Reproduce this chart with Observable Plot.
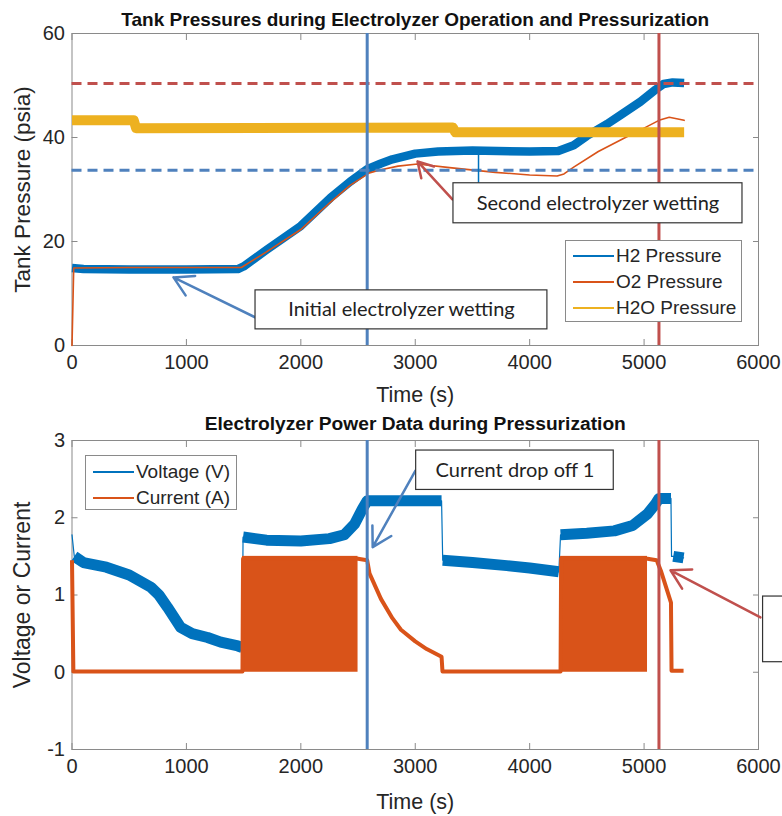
<!DOCTYPE html>
<html>
<head>
<meta charset="utf-8">
<script src="https://cdn.jsdelivr.net/npm/d3@7"></script>
<script src="https://cdn.jsdelivr.net/npm/@observablehq/plot@0.6"></script>
<style>
  html, body { margin: 0; padding: 0; background: #fff; }
  #wrap { position: relative; width: 782px; height: 816px; overflow: hidden; background: #fff;
          font-family: "Liberation Sans", Arial, Helvetica, sans-serif; }
  .panel { position: absolute; left: 0; }
  .legend { position: absolute; box-sizing: border-box; border: 1px solid #8a8a8a; background: #fff;
            color: #262626; font-size: 19px; }
  .legend .row { position: absolute; left: 0; height: 22px; line-height: 22px; white-space: nowrap; }
  .legend .sw { position: absolute; top: 10px; height: 2px; }
  .legend .lb { position: absolute; top: 0; }
</style>
</head>
<body>
<div id="wrap">
  <div id="topPanel" class="panel" style="top:0"></div>
  <div id="bottomPanel" class="panel" style="top:410px"></div>
</div>
<script>
// ---------------- data ----------------
const xTicks = [0, 1000, 2000, 3000, 4000, 5000, 6000];
const pressureTicks = [0, 20, 40, 60];
const powerTicks = [-1, 0, 1, 2, 3];

const pressureTitle = "Tank Pressures during Electrolyzer Operation and Pressurization";
const powerTitle = "Electrolyzer Power Data during Pressurization";
const timeLabel = "Time (s)";
const pressureLabel = "Tank Pressure (psia)";
const powerLabel = "Voltage or Current";
const pressureSeriesNames = ["H2 Pressure", "O2 Pressure", "H2O Pressure"];
const powerSeriesNames = ["Voltage (V)", "Current (A)"];

// [time s, psia]
const h2Pressure = [[0,14.9],[100,14.7],[500,14.6],[1000,14.6],[1450,14.7],[1500,15.2],[1700,18.4],
  [2000,23.0],[2259,28.4],[2430,31.5],[2580,33.9],[2700,35.0],[2800,35.8],[3000,36.9],[3200,37.3],
  [3500,37.5],[4000,37.3],[4250,37.4],[4385,38.5],[4500,40.3],[4677,42.6],[4800,44.4],[4969,46.9],
  [5100,49.2],[5170,50.3],[5250,50.6],[5350,50.5]];
const o2Pressure = [[0,0],[15,14.9],[500,15.0],[1000,15.0],[1480,15.0],[1700,18.0],[2000,22.3],
  [2250,27.4],[2430,30.8],[2600,33.2],[2700,33.8],[2850,34.5],[3020,34.9],[3300,34.2],[3700,33.3],
  [4000,32.8],[4240,32.6],[4300,33.0],[4385,34.3],[4600,37.3],[4820,39.8],[5000,41.8],[5130,43.3],
  [5220,43.9],[5350,43.3]];
const h2oPressure = [[0,43.3],[540,43.3],[560,41.8],[3330,41.9],[3350,41.0],[5350,41.0]];
const h2LimitPsia = 33.7;
const o2LimitPsia = 50.4;
const eventTimes = [2580, 5130];

// voltage trace, split where it jumps
const voltageSegments = [
  [[0,1.78]],
  [[20,1.5],[100,1.42],[300,1.36],[500,1.26],[690,1.1],[760,1.0],[835,0.84],[950,0.58],
   [1050,0.5],[1185,0.45],[1300,0.39],[1450,0.34],[1488,0.32]],
  [[1495,1.75],[1700,1.71],[2000,1.70],[2250,1.73],[2380,1.78],[2470,1.92],[2540,2.12],[2580,2.22],
   [2800,2.22],[3000,2.22],[3230,2.22]],
  [[3240,1.45],[3500,1.42],[3800,1.38],[4000,1.35],[4255,1.3]],
  [[4270,1.78],[4500,1.8],[4740,1.83],[4900,1.9],[5030,2.05],[5100,2.18],[5130,2.25],[5235,2.25]],
  [[5240,1.5]],
  [[5255,1.5],[5300,1.49],[5345,1.48]]
];
// current trace outside the on/off switching bursts
const currentTrace = [[0,1.45],[12,0.01],[500,0.01],[1000,0.01],[1490,0.01],[1495,1.47],[2500,1.47],
  [2580,1.45],[2600,1.28],[2700,0.95],[2800,0.7],[2875,0.55],[3000,0.4],[3100,0.3],[3230,0.2],
  [3238,0.01],[4000,0.01],[4270,0.01],[4275,1.47],[5030,1.47],[5110,1.45],[5150,1.3],[5235,0.9],
  [5240,0.02],[5290,0.02],[5345,0.02]];
// switching bursts: [start s, end s, peak A]
const currentBursts = [[1490,2500,1.5],[4270,5030,1.5]];

// annotations (data coordinates)
const pressureNotes = [
  {text: "Initial electrolyzer wetting", t1: 1604, t2: 4155, lo: 3.1, hi: 10.6},
  {text: "Second electrolyzer wetting", t1: 3334, t2: 5860, lo: 23.5, hi: 31.2}
];
const pressureArrows = [
  {t1: 1621, p1: 5.2, t2: 887, p2: 13.1, kind: "blue"},
  {t1: 3325, p1: 28.1, t2: 3020, p2: 35.4, kind: "red"}
];
const pressureLeader = [{t: 3553, lo: 31.2, hi: 36.9}];
const powerNotes = [
  {text: "Current drop off 1", t1: 3008, t2: 4735, lo: 2.36, hi: 2.87}
];
// second call-out box runs off the right edge of the picture (its text is not visible)
const powerNoteBoxes = [
  {t1: 3008, t2: 4735, lo: 2.36, hi: 2.87},
  {t1: 6040, t2: 7800, lo: 0.13, hi: 0.98}
];
const powerArrows = [
  {t1: 3002, v1: 2.61, t2: 2628, v2: 1.62, kind: "blue"},
  {t1: 6017, v1: 0.71, t2: 5231, v2: 1.32, kind: "red"}
];

// ---------------- styling ----------------
const FONT = '"Liberation Sans", Arial, Helvetica, sans-serif';
const NOTE_FONT = 'Lato, "Open Sans", sans-serif';
const C_H2 = "#0072BD", C_O2 = "#D95319", C_H2O = "#EDB120";
const M_BLUE = "#4F81BD", M_RED = "#C0504D";
const AXIS = "#8a8a8a", INK = "#262626";
const W = 782;
const plain = (d) => String(d);

function frameAxes(yTicks) {
  return [
    Plot.frame({stroke: AXIS}),
    Plot.axisX(xTicks, {anchor: "bottom", tickSize: -6, tickPadding: 15, fontSize: 20, tickFormat: plain, stroke: AXIS, fill: INK, label: null}),
    Plot.axisX(xTicks, {anchor: "top", tickSize: -6, tickFormat: () => "", stroke: AXIS, label: null}),
    Plot.axisY(yTicks, {anchor: "left", tickSize: -6, tickPadding: 13, fontSize: 20, tickFormat: plain, stroke: AXIS, fill: INK, label: null}),
    Plot.axisY(yTicks, {anchor: "right", tickSize: -6, tickFormat: () => "", stroke: AXIS, label: null})
  ];
}
const mColor = (k) => (k === "red" ? M_RED : M_BLUE);

// ---------------- top panel ----------------
const pressurePlot = Plot.plot({
  width: W, height: 410,
  marginTop: 33, marginBottom: 65, marginLeft: 71.5, marginRight: 24,
  style: {fontFamily: FONT, background: "transparent", overflow: "visible"},
  x: {domain: [0, 6000]},
  y: {domain: [0, 60]},
  marks: [
    ...frameAxes(pressureTicks),
    Plot.line(h2Pressure, {x: d => d[0], y: d => d[1], stroke: C_H2, strokeWidth: 8.5, strokeLinecap: "butt"}),
    Plot.line(o2Pressure, {x: d => d[0], y: d => d[1], stroke: C_O2, strokeWidth: 1.6}),
    Plot.line(h2oPressure, {x: d => d[0], y: d => d[1], stroke: C_H2O, strokeWidth: 10, strokeLinecap: "butt"}),
    Plot.ruleY([o2LimitPsia], {stroke: M_RED, strokeWidth: 3, strokeDasharray: "10,6"}),
    Plot.ruleY([h2LimitPsia], {stroke: M_BLUE, strokeWidth: 3, strokeDasharray: "10,6"}),
    Plot.ruleX([eventTimes[0]], {stroke: M_BLUE, strokeWidth: 3}),
    Plot.ruleX([eventTimes[1]], {stroke: M_RED, strokeWidth: 3}),
    Plot.ruleX(pressureLeader, {x: "t", y1: "lo", y2: "hi", stroke: C_H2, strokeWidth: 1.5}),
    Plot.arrow(pressureArrows, {x1: "t1", y1: "p1", x2: "t2", y2: "p2", stroke: d => mColor(d.kind), strokeWidth: 2.5, headLength: 13, bend: 0}),
    Plot.rect(pressureNotes, {x1: "t1", x2: "t2", y1: "lo", y2: "hi", fill: "white", stroke: "#333", strokeWidth: 1.2}),
    Plot.text(pressureNotes, {x: d => (d.t1 + d.t2) / 2, y: d => (d.lo + d.hi) / 2, text: "text", fontSize: 20, fontFamily: NOTE_FONT, fill: "#222"}),
    Plot.text([pressureTitle], {text: d => d, frameAnchor: "top", dy: -21, fontSize: 19, fontWeight: "bold", fill: "#111"}),
    Plot.text([timeLabel], {text: d => d, frameAnchor: "bottom", dy: 56, fontSize: 21.5, fill: INK}),
    Plot.text([pressureLabel], {text: d => d, frameAnchor: "left", textAnchor: "middle", dx: -49.5, rotate: -90, fontSize: 22.5, fill: INK})
  ]
});
document.getElementById("topPanel").appendChild(pressurePlot);

// ---------------- bottom panel ----------------
const voltageData = voltageSegments.flatMap((s, i) => s.map(p => ({t: p[0], v: p[1], seg: i})));
const powerPlot = Plot.plot({
  width: W, height: 406,
  marginTop: 30, marginBottom: 67, marginLeft: 71.5, marginRight: 24,
  style: {fontFamily: FONT, background: "transparent", overflow: "visible"},
  x: {domain: [0, 6000]},
  y: {domain: [-1, 3]},
  marks: [
    ...frameAxes(powerTicks),
    Plot.line(voltageData, {x: "t", y: "v", stroke: C_H2, strokeWidth: 1.2}),
    Plot.line(voltageData, {x: "t", y: "v", z: "seg", stroke: C_H2, strokeWidth: 11, strokeLinecap: "butt"}),
    Plot.rect(currentBursts, {x1: d => d[0], x2: d => d[1], y1: 0, y2: d => d[2], fill: C_O2}),
    Plot.line(currentTrace, {x: d => d[0], y: d => d[1], stroke: C_O2, strokeWidth: 4, strokeLinecap: "butt"}),
    Plot.ruleX([eventTimes[0]], {stroke: M_BLUE, strokeWidth: 3}),
    Plot.ruleX([eventTimes[1]], {stroke: M_RED, strokeWidth: 3}),
    Plot.arrow(powerArrows, {x1: "t1", y1: "v1", x2: "t2", y2: "v2", stroke: d => mColor(d.kind), strokeWidth: 2.5, headLength: 13, bend: 0}),
    Plot.rect(powerNoteBoxes, {x1: "t1", x2: "t2", y1: "lo", y2: "hi", fill: "white", stroke: "#333", strokeWidth: 1.2}),
    Plot.text(powerNotes, {x: d => (d.t1 + d.t2) / 2, y: d => (d.lo + d.hi) / 2, text: "text", fontSize: 20, fontFamily: NOTE_FONT, fill: "#222"}),
    Plot.text([powerTitle], {text: d => d, frameAnchor: "top", dy: -24, fontSize: 19.2, fontWeight: "bold", fill: "#111"}),
    Plot.text([timeLabel], {text: d => d, frameAnchor: "bottom", dy: 59, fontSize: 21.5, fill: INK}),
    Plot.text([powerLabel], {text: d => d, frameAnchor: "left", textAnchor: "middle", dx: -49.5, rotate: -90, fontSize: 23, fill: INK})
  ]
});
document.getElementById("bottomPanel").appendChild(powerPlot);

// ---------------- legends (HTML, inside the axes) ----------------
function legend(names, colors, box) {
  const el = document.createElement("div");
  el.className = "legend";
  Object.assign(el.style, {left: box.left + "px", top: box.top + "px", width: box.width + "px", height: box.height + "px"});
  names.forEach((n, i) => {
    const row = document.createElement("div");
    row.className = "row";
    row.style.top = (box.first + i * box.step - 11) + "px";
    const sw = document.createElement("div");
    sw.className = "sw";
    Object.assign(sw.style, {left: "7px", width: "41px", background: colors[i]});
    const lb = document.createElement("div");
    lb.className = "lb";
    lb.style.left = "50px";
    lb.textContent = n;
    row.appendChild(sw); row.appendChild(lb);
    el.appendChild(row);
  });
  document.getElementById("wrap").appendChild(el);
}
legend(pressureSeriesNames, [C_H2, C_O2, C_H2O], {left: 565, top: 240, width: 177, height: 82, first: 15, step: 26});
legend(powerSeriesNames, [C_H2, C_O2], {left: 85, top: 455, width: 152, height: 55, first: 16, step: 26});
</script>
</body>
</html>
